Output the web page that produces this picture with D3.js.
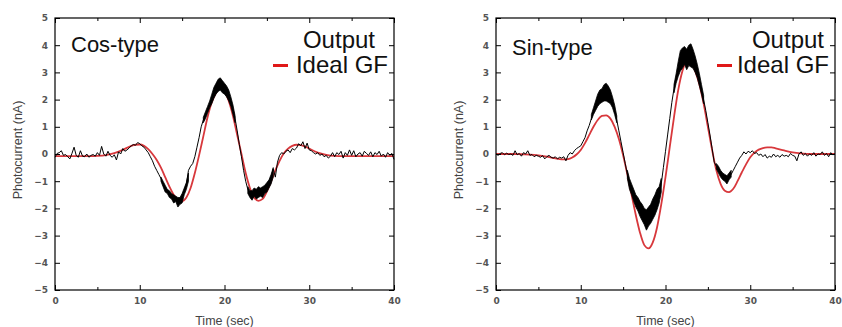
<!DOCTYPE html>
<html>
<head>
<meta charset="utf-8">
<script src="https://cdn.jsdelivr.net/npm/d3@7"></script>
<style>
  body { margin: 0; background: #fff; }
  svg { display: block; font-family: "Liberation Sans", Arial, sans-serif; }
</style>
</head>
<body>
<script>
// ---- data ----
const timeDomain = [0, 40];
const currentDomain = [-5, 5];
const xMajorTicks = [0, 10, 20, 30, 40];
const xMinorTicks = [5, 15, 25, 35];
const yTicks = [-5, -4, -3, -2, -1, 0, 1, 2, 3, 4, 5];

// ideal Gabor filter, sampled by eye
const cosIdealTime = [0, 1, 2, 3, 4, 5, 6, 7, 8, 9, 9.5, 10, 10.5, 11, 11.5, 12, 12.5, 13, 13.5, 14, 14.5, 15, 15.5, 16, 16.5, 17, 17.5, 18, 18.5, 19, 19.5, 20, 20.5, 21, 21.5, 22, 22.5, 23, 23.5, 24, 24.5, 25, 25.5, 26, 26.5, 27, 27.5, 28, 28.5, 29, 29.5, 30, 31, 32, 33, 34, 36, 38, 40];
const cosIdeal = [-0.08, -0.08, -0.08, -0.08, -0.08, -0.07, -0.04, 0.03, 0.15, 0.3, 0.34, 0.35, 0.3, 0.18, 0.0, -0.22, -0.5, -0.85, -1.2, -1.5, -1.68, -1.73, -1.6, -1.25, -0.7, -0.05, 0.65, 1.35, 1.9, 2.25, 2.4, 2.3, 1.95, 1.4, 0.7, 0.0, -0.7, -1.25, -1.6, -1.72, -1.65, -1.38, -1.0, -0.6, -0.25, 0.03, 0.2, 0.3, 0.34, 0.33, 0.28, 0.2, 0.05, -0.03, -0.07, -0.08, -0.08, -0.08, -0.08];

const sinIdealTime = [0, 1, 2, 3, 4, 5, 6, 7, 7.5, 8, 8.5, 9, 9.5, 10, 10.5, 11, 11.5, 12, 12.5, 13, 13.5, 14, 14.5, 15, 15.5, 16, 16.5, 17, 17.5, 18, 18.5, 19, 19.5, 20, 20.5, 21, 21.5, 22, 22.5, 23, 23.5, 24, 24.5, 25, 25.5, 26, 26.5, 27, 27.5, 28, 28.5, 29, 29.5, 30, 30.5, 31, 31.5, 32, 32.5, 33, 34, 35, 36, 37, 38, 40];
const sinIdeal = [0, 0, 0, -0.01, -0.02, -0.05, -0.1, -0.16, -0.19, -0.2, -0.19, -0.13, -0.02, 0.15, 0.4, 0.7, 1.0, 1.25, 1.4, 1.42, 1.3, 1.0, 0.55, -0.05, -0.75, -1.5, -2.25, -2.9, -3.35, -3.47, -3.25, -2.7, -1.85, -0.85, 0.25, 1.35, 2.35, 3.05, 3.42, 3.4, 3.05, 2.55, 1.85, 1.0, 0.15, -0.6, -1.1, -1.35, -1.4, -1.28, -1.0, -0.68, -0.38, -0.12, 0.05, 0.16, 0.22, 0.24, 0.24, 0.21, 0.13, 0.06, 0.02, 0.0, 0.0, 0.0];

// measured output, one value every 0.25 s
const outputTime = d3.range(0, 40.001, 0.25);
const cosOutput = [
  -0.12, 0.02, 0.05, 0.12, -0.05, -0.02, -0.1, -0.18, 0.02, 0.25, -0.05, -0.12, 0.12, -0.08, -0.1, 0.0,
  -0.12, -0.05, -0.02, -0.08, 0.05, -0.05, 0.28, 0.0, -0.08, 0.1, -0.05, -0.12, -0.03, -0.22, 0.08, 0.0,
  0.2, 0.1, 0.15, 0.22, 0.3, 0.35, 0.32, 0.42, 0.38, 0.3, 0.25, 0.15, 0.05, -0.1, -0.25, -0.45,
  -0.6, -0.75, -0.9, -1.1, -1.25, -1.35, -1.45, -1.55, -1.6, -1.7, -1.75, -1.8, -1.6, -1.35, -1.1, -0.6,
  -0.45, -0.35, -0.1, 0.25, 0.6, 1.0, 1.25, 1.45, 1.6, 1.8, 2.0, 2.25, 2.35, 2.45, 2.55, 2.45,
  2.4, 2.3, 2.15, 1.95, 1.65, 1.3, 0.85, 0.35, -0.1, -0.6, -1.0, -1.3, -1.45, -1.5, -1.45, -1.4,
  -1.45, -1.4, -1.35, -1.3, -1.2, -1.05, -0.85, -0.55, -0.85, -0.3, -0.05, 0.05, 0.0, 0.1, 0.15, 0.05,
  0.2, 0.15, 0.22, 0.38, 0.3, 0.45, 0.2, 0.4, 0.15, 0.12, 0.05, 0.0, 0.05, -0.05, 0.0, -0.1,
  -0.05, -0.15, -0.08, 0.05, -0.1, 0.05, -0.02, 0.1, -0.15, 0.05, -0.05, 0.15, -0.05, 0.12, -0.1, 0.0,
  0.05, -0.08, 0.1, 0.02, -0.05, 0.08, -0.1, 0.05, -0.02, 0.1, -0.08, 0.0, -0.12, 0.05, -0.05, 0.02,
  -0.2
];
const sinOutput = [
  0.0, -0.05, 0.02, 0.05, -0.03, 0.03, -0.02, 0.0, -0.05, 0.12, -0.03, 0.02, -0.08, 0.05, 0.0, 0.12,
  -0.05, -0.02, -0.1, -0.05, -0.08, -0.12, -0.06, -0.18, -0.1, -0.05, -0.12, -0.15, -0.1, -0.18, -0.12, -0.15,
  -0.1, -0.25, -0.05, 0.05, 0.0, 0.12, 0.2, 0.25, 0.3, 0.45, 0.6, 0.85, 1.05, 1.3, 1.55, 1.75,
  1.95, 2.05, 2.15, 2.2, 2.25, 2.15, 2.1, 1.9, 1.6, 1.25, 0.85, 0.45, 0.05, -0.35, -0.75, -1.1,
  -1.3, -1.5, -1.7, -1.85, -2.0, -2.2, -2.35, -2.45, -2.3, -2.1, -1.95, -1.85, -1.7, -1.5, -1.1, -0.5,
  0.1, 0.7, 1.3, 1.9, 2.4, 2.8, 3.1, 3.35, 3.5, 3.6, 3.5, 3.55, 3.6, 3.5, 3.3, 3.0,
  2.7, 2.35, 2.0, 1.6, 1.15, 0.7, 0.2, -0.3, -0.45, -0.6, -0.75, -0.8, -0.9, -1.0, -0.85, -0.75,
  -0.6, -0.45, -0.3, -0.15, -0.05, 0.08, 0.0, 0.1, 0.05, 0.12, 0.02, 0.05, -0.05, 0.0, -0.1, -0.02,
  -0.15, -0.08, -0.12, 0.0, -0.1, -0.05, -0.12, -0.02, -0.08, -0.05, -0.1, 0.02, -0.05, -0.08, -0.25, 0.0,
  0.08, -0.05, 0.02, -0.08, 0.0, -0.05, 0.05, -0.08, 0.0, -0.02, 0.08, -0.05, 0.02, -0.1, 0.05, -0.03,
  0.0
];

// dense high-frequency noise on the output (low / high envelope), null = gap
const cosBandTime = [
  12.5, 12.75, 13, 13.25, 13.5, 13.75, 14, 14.25, 14.5, 14.75, 15, 15.25, 15.5, 15.75, 16,
  17.5, 17.75, 18, 18.25, 18.5, 18.75, 19, 19.25, 19.5, 19.75, 20, 20.25, 20.5, 20.75, 21, 21.25, 21.5,
  22.75, 23, 23.25, 23.5, 23.75, 24, 24.25, 24.5, 24.75, 25, 25.25, 25.5, 25.75];
const cosBandLow = [
  -1.0, -1.2, -1.4, -1.45, -1.6, -1.65, -1.8, -1.75, -1.95, -1.85, -1.8, -1.5, -1.3, -1.0, null,
  1.15, 1.3, 1.5, 1.7, 1.85, 2.05, 2.2, 2.3, 2.35, 2.25, 2.2, 2.1, 1.95, 1.75, 1.45, 1.15, null,
  -1.45, -1.6, -1.7, -1.55, -1.65, -1.6, -1.55, -1.6, -1.45, -1.4, -1.25, -1.1, -0.85];
const cosBandHigh = [
  -0.85, -1.0, -1.15, -1.3, -1.35, -1.45, -1.5, -1.55, -1.6, -1.6, -1.45, -1.25, -1.05, -0.7, null,
  1.35, 1.55, 1.75, 1.95, 2.2, 2.45, 2.6, 2.75, 2.8, 2.7, 2.6, 2.5, 2.35, 2.1, 1.8, 1.4, null,
  -1.2, -1.35, -1.35, -1.25, -1.3, -1.2, -1.25, -1.2, -1.15, -1.05, -0.95, -0.75, -0.5];

const sinBandTime = [
  11.25, 11.5, 11.75, 12, 12.25, 12.5, 12.75, 13, 13.25, 13.5, 13.75, 14, 14.25, 15,
  15.5, 15.75, 16, 16.25, 16.5, 16.75, 17, 17.25, 17.5, 17.75, 18, 18.25, 18.5, 18.75, 19, 19.25, 19.5, 20,
  21, 21.25, 21.5, 21.75, 22, 22.25, 22.5, 22.75, 23, 23.25, 23.5, 23.75, 24, 24.25, 24.5, 25.5,
  26, 26.25, 26.5, 26.75, 27, 27.25, 27.5, 27.75];
const sinBandLow = [
  1.25, 1.45, 1.6, 1.75, 1.85, 1.9, 1.95, 1.95, 1.9, 1.85, 1.7, 1.45, 1.15, null,
  -0.9, -1.3, -1.5, -1.75, -1.95, -2.1, -2.3, -2.45, -2.6, -2.8, -2.65, -2.55, -2.4, -2.25, -2.05, -1.8, -1.4, null,
  2.25, 2.6, 2.85, 3.05, 3.15, 3.3, 3.1, 3.25, 3.2, 3.15, 3.0, 2.8, 2.5, 2.2, 1.85, null,
  -0.55, -0.7, -0.85, -0.95, -1.0, -1.1, -0.95, -0.85];
const sinBandHigh = [
  1.45, 1.7, 1.95, 2.2, 2.35, 2.4, 2.55, 2.6, 2.5, 2.35, 2.1, 1.8, 1.4, null,
  -0.6, -0.9, -1.1, -1.3, -1.5, -1.6, -1.75, -1.85, -2.0, -2.05, -1.95, -1.85, -1.65, -1.5, -1.3, -1.2, -0.9, null,
  2.55, 2.95, 3.4, 3.8, 3.9, 3.95, 3.85, 4.0, 4.05, 3.85, 3.6, 3.3, 2.95, 2.55, 2.15, null,
  -0.35, -0.45, -0.6, -0.7, -0.75, -0.8, -0.7, -0.6];

const panelTitles = ['Cos-type', 'Sin-type'];
const legendLabels = ['Output', 'Ideal GF'];

// ---- drawing ----
const width = 842;
const height = 327;
const plotTop = 18;
const plotBottom = 290;
const idealColor = '#d8383c';

const svg = d3.select('body').append('svg').attr('width', width).attr('height', height);

const zipLine = (ts, vs) => ts.map((t, i) => ({ t, v: vs[i] }));
const zipBand = (ts, lo, hi) => ts.map((t, i) => ({ t, lo: lo[i], hi: hi[i] }));

const drawPanel = (panel) => {
  const x = d3.scaleLinear().domain(timeDomain).range([panel.left, panel.right]);
  const y = d3.scaleLinear().domain(currentDomain).range([plotBottom, plotTop]);
  const g = svg.append('g');

  // ideal curve underneath
  g.append('path')
    .datum(zipLine(panel.idealTime, panel.ideal))
    .attr('fill', 'none')
    .attr('stroke', idealColor)
    .attr('stroke-width', 1.8)
    .attr('d', d3.line().curve(d3.curveMonotoneX).x((d) => x(d.t)).y((d) => y(d.v)));

  // noise band of the measured trace
  g.append('path')
    .datum(zipBand(panel.bandTime, panel.bandLow, panel.bandHigh))
    .attr('fill', '#000')
    .attr('stroke', '#000')
    .attr('stroke-width', 0.8)
    .attr('d', d3.area()
      .defined((d) => d.lo !== null)
      .x((d) => x(d.t))
      .y0((d) => y(d.lo))
      .y1((d) => y(d.hi)));

  g.append('path')
    .datum(zipLine(outputTime, panel.output))
    .attr('fill', 'none')
    .attr('stroke', '#000')
    .attr('stroke-width', 1)
    .attr('stroke-linejoin', 'round')
    .attr('d', d3.line().x((d) => x(d.t)).y((d) => y(d.v)));

  // axes, ticks pointing inward on all four sides
  const tickText = (sel) => sel.selectAll('text')
    .attr('fill', '#555')
    .style('font-size', '9px')
    .style('font-weight', 'bold')
    .style('font-family', '"DejaVu Sans", sans-serif');

  g.append('g')
    .attr('transform', `translate(${panel.left},0)`)
    .call(d3.axisLeft(y).tickValues(yTicks).tickSize(-5).tickPadding(7))
    .call((a) => a.select('.domain').remove())
    .call(tickText);
  g.append('g')
    .attr('transform', `translate(${panel.right},0)`)
    .call(d3.axisRight(y).tickValues(yTicks).tickSize(-5).tickFormat(''))
    .call((a) => a.select('.domain').remove());
  g.append('g')
    .attr('transform', `translate(0,${plotBottom})`)
    .call(d3.axisBottom(x).tickValues(xMajorTicks).tickSize(-5).tickPadding(8))
    .call((a) => a.select('.domain').remove())
    .call(tickText);
  g.append('g')
    .attr('transform', `translate(0,${plotBottom})`)
    .call(d3.axisBottom(x).tickValues(xMinorTicks).tickSize(-3).tickFormat(''))
    .call((a) => a.select('.domain').remove());
  g.append('g')
    .attr('transform', `translate(0,${plotTop})`)
    .call(d3.axisTop(x).tickValues(xMajorTicks).tickSize(-5).tickFormat(''))
    .call((a) => a.select('.domain').remove());
  g.append('g')
    .attr('transform', `translate(0,${plotTop})`)
    .call(d3.axisTop(x).tickValues(xMinorTicks).tickSize(-3).tickFormat(''))
    .call((a) => a.select('.domain').remove());

  g.append('rect')
    .attr('x', panel.left)
    .attr('y', plotTop)
    .attr('width', panel.right - panel.left)
    .attr('height', plotBottom - plotTop)
    .attr('fill', 'none')
    .attr('stroke', '#000')
    .attr('stroke-width', 1.2);

  // axis titles
  g.append('text')
    .attr('x', (panel.left + panel.right) / 2)
    .attr('y', 325)
    .attr('text-anchor', 'middle')
    .attr('fill', '#444')
    .style('font-size', '12.5px')
    .text('Time (sec)');
  g.append('text')
    .attr('transform', `translate(${panel.left - 33},${150}) rotate(-90)`)
    .attr('text-anchor', 'middle')
    .attr('fill', '#444')
    .style('font-size', '12.5px')
    .text('Photocurrent (nA)');

  // panel title and legend
  g.append('text')
    .attr('x', panel.left + 16)
    .attr('y', panel.titleY)
    .attr('fill', '#111')
    .style('font-size', '22px')
    .text(panel.title);
  g.append('text')
    .attr('x', panel.outputRight)
    .attr('y', 48)
    .attr('text-anchor', 'end')
    .attr('fill', '#111')
    .style('font-size', '24px')
    .text(legendLabels[0]);
  g.append('text')
    .attr('x', panel.idealRight)
    .attr('y', 73)
    .attr('text-anchor', 'end')
    .attr('fill', '#111')
    .style('font-size', '24px')
    .text(legendLabels[1]);
  g.append('line')
    .attr('x1', panel.dashLeft)
    .attr('x2', panel.dashLeft + 15)
    .attr('y1', 65.5)
    .attr('y2', 65.5)
    .attr('stroke', '#e01818')
    .attr('stroke-width', 3);
};

drawPanel({
  left: 55, right: 394, title: panelTitles[0], titleY: 52,
  outputRight: 375, idealRight: 388, dashLeft: 273,
  idealTime: cosIdealTime, ideal: cosIdeal, output: cosOutput,
  bandTime: cosBandTime, bandLow: cosBandLow, bandHigh: cosBandHigh,
});
drawPanel({
  left: 496, right: 835, title: panelTitles[1], titleY: 55,
  outputRight: 824, idealRight: 829, dashLeft: 717,
  idealTime: sinIdealTime, ideal: sinIdeal, output: sinOutput,
  bandTime: sinBandTime, bandLow: sinBandLow, bandHigh: sinBandHigh,
});
</script>
</body>
</html>
